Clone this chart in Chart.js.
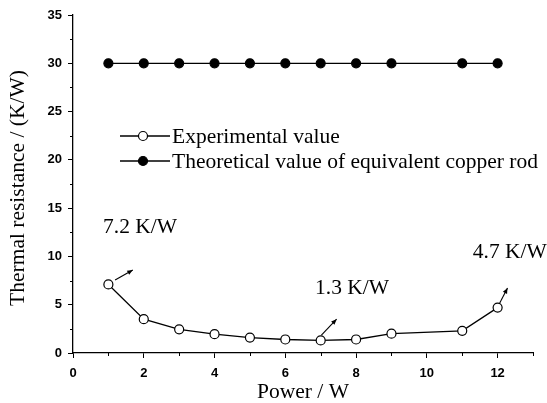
<!DOCTYPE html>
<html>
<head>
<meta charset="utf-8">
<script src="https://cdn.jsdelivr.net/npm/chart.js@4/dist/chart.umd.min.js"></script>
<style>
  html, body { margin: 0; padding: 0; background: #fff; }
</style>
</head>
<body>
<canvas id="chart" width="547" height="403"></canvas>
<script>
// ---------------------------------------------------------
// Data
// ---------------------------------------------------------
const power = [1, 2, 3, 4, 5, 6, 7, 8, 9, 11, 12];
const experimental = [7.1, 3.5, 2.45, 1.95, 1.6, 1.4, 1.3, 1.4, 2.0, 2.3, 4.7];
const theoretical = [30, 30, 30, 30, 30, 30, 30, 30, 30, 30, 30];

const xTicks = [0, 2, 4, 6, 8, 10, 12];
const yTicks = [0, 5, 10, 15, 20, 25, 30, 35];
const xMinorTicks = [1, 3, 5, 7, 9, 11, 13];
const yMinorTicks = [2.5, 7.5, 12.5, 17.5, 22.5, 27.5, 32.5];

const seriesNames = ["Experimental value", "Theoretical value of equivalent copper rod"];
const yTitle = "Thermal resistance / (K/W)";

// labels + little arrows, in data units
const noteTexts = ["7.2 K/W", "1.3 K/W", "4.7 K/W"];
const noteAt = [[0.85, 13.0], [6.84, 6.7], [11.3, 10.45]];
const arrowFrom = [[1.19, 7.55], [7.02, 1.86], [12.06, 5.18]];
const arrowTo = [[1.69, 8.6], [7.45, 3.5], [12.28, 6.73]];

const serif = "'Liberation Serif', 'Times New Roman', serif";
const sans = "'Liberation Sans', Arial, sans-serif";
const textSize = 21.5;

// ---------------------------------------------------------
// Extra drawing: y title, minor ticks, legend, annotations
// ---------------------------------------------------------
const extras = {
  id: "extras",
  afterDraw(chart) {
    const ctx = chart.ctx;
    const x = chart.scales.x, y = chart.scales.y;
    const area = chart.chartArea;
    ctx.save();
    ctx.strokeStyle = "#000";
    ctx.fillStyle = "#000";
    ctx.lineWidth = 1;

    // y axis title (a bit below the plot centre, as in the figure)
    ctx.save();
    ctx.font = textSize + "px " + serif;
    ctx.textAlign = "center";
    ctx.textBaseline = "middle";
    ctx.translate(18, (area.top + area.bottom) / 2 + 4);
    ctx.rotate(-Math.PI / 2);
    ctx.fillText(yTitle, 0, 0);
    ctx.restore();

    // minor ticks
    yMinorTicks.forEach(v => {
      const py = Math.round(y.getPixelForValue(v)) + 0.5;
      ctx.beginPath(); ctx.moveTo(area.left - 3, py); ctx.lineTo(area.left, py); ctx.stroke();
    });
    xMinorTicks.forEach(v => {
      const px = Math.round(x.getPixelForValue(v)) + 0.5;
      ctx.beginPath(); ctx.moveTo(px, area.bottom); ctx.lineTo(px, area.bottom + 3); ctx.stroke();
    });

    // legend
    const rows = [136, 161];
    ctx.font = textSize + "px " + serif;
    ctx.textBaseline = "middle";
    chart.data.datasets.forEach((ds, i) => {
      const ly = rows[i];
      ctx.lineWidth = 1.3;
      ctx.beginPath(); ctx.moveTo(120, ly); ctx.lineTo(170, ly); ctx.stroke();
      ctx.beginPath(); ctx.arc(143, ly, ds.pointRadius, 0, Math.PI * 2);
      ctx.fillStyle = ds.pointBackgroundColor; ctx.fill();
      ctx.lineWidth = ds.pointBorderWidth; ctx.stroke();
      ctx.fillStyle = "#000";
      ctx.fillText(seriesNames[i], 172, ly + 1);
    });

    // annotations
    ctx.textAlign = "left";
    noteTexts.forEach((t, i) => {
      ctx.fillText(t, x.getPixelForValue(noteAt[i][0]), y.getPixelForValue(noteAt[i][1]));
    });

    // arrows
    ctx.lineWidth = 1.1;
    arrowFrom.forEach((f, i) => {
      const x0 = x.getPixelForValue(f[0]), y0 = y.getPixelForValue(f[1]);
      const x1 = x.getPixelForValue(arrowTo[i][0]), y1 = y.getPixelForValue(arrowTo[i][1]);
      const a = Math.atan2(y1 - y0, x1 - x0);
      ctx.beginPath(); ctx.moveTo(x0, y0); ctx.lineTo(x1, y1); ctx.stroke();
      ctx.beginPath();
      ctx.moveTo(x1, y1);
      ctx.lineTo(x1 - 6 * Math.cos(a - 0.4), y1 - 6 * Math.sin(a - 0.4));
      ctx.lineTo(x1 - 6 * Math.cos(a + 0.4), y1 - 6 * Math.sin(a + 0.4));
      ctx.closePath();
      ctx.fill();
    });
    ctx.restore();
  }
};

// ---------------------------------------------------------
// Chart
// ---------------------------------------------------------
new Chart(document.getElementById("chart"), {
  type: "line",
  data: {
    datasets: [
      {
        label: seriesNames[0],
        data: power.map((p, i) => ({ x: p, y: experimental[i] })),
        borderColor: "#000", borderWidth: 1.3,
        pointRadius: 4.5, pointBackgroundColor: "#fff",
        pointBorderColor: "#000", pointBorderWidth: 1.2,
        tension: 0
      },
      {
        label: seriesNames[1],
        data: power.map((p, i) => ({ x: p, y: theoretical[i] })),
        borderColor: "#000", borderWidth: 1.3,
        pointRadius: 4.5, pointBackgroundColor: "#000",
        pointBorderColor: "#000", pointBorderWidth: 1.2,
        tension: 0
      }
    ]
  },
  options: {
    responsive: false,
    animation: false,
    layout: { padding: { top: 15, right: 14, left: 0, bottom: 0 } },
    plugins: { legend: { display: false }, tooltip: { enabled: false } },
    scales: {
      x: {
        type: "linear", min: 0, max: 13,
        afterBuildTicks: s => { s.ticks = xTicks.map(v => ({ value: v })); },
        afterFit: s => { s.height = 50; },
        grid: { drawOnChartArea: false, drawTicks: true, tickLength: 5, color: "#000" },
        border: { display: true, color: "#000", width: 1.3 },
        ticks: { color: "#000", padding: 8, maxRotation: 0, font: { family: sans, size: 13, weight: "bold" } },
        title: { display: true, text: "Power / W", color: "#000", padding: 0, font: { family: serif, size: textSize, lineHeight: 1 } }
      },
      y: {
        type: "linear", min: 0, max: 35,
        afterBuildTicks: s => { s.ticks = yTicks.map(v => ({ value: v })); },
        afterFit: s => { s.width = 73; },
        grid: { drawOnChartArea: false, drawTicks: true, tickLength: 5, color: "#000" },
        border: { display: true, color: "#000", width: 1.3 },
        ticks: { color: "#000", padding: 6, font: { family: sans, size: 13, weight: "bold" } },
        title: { display: false }
      }
    }
  },
  plugins: [extras]
});
</script>
</body>
</html>
